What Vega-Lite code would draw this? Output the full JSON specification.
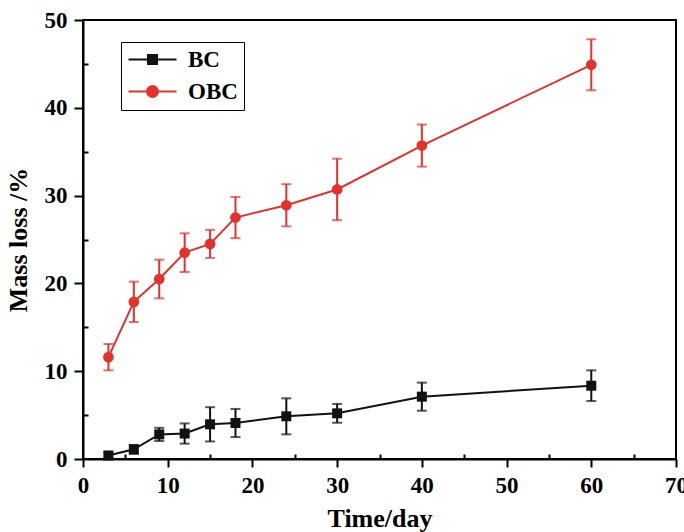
{
  "$schema": "https://vega.github.io/schema/vega-lite/v6.json",
  "width": 593,
  "height": 439,
  "autosize": {"type": "none"},
  "padding": {"left": 83, "top": 20, "right": 8, "bottom": 73},
  "background": "white",
  "config": {
    "view": {"stroke": "black", "strokeWidth": 2},
    "font": "Liberation Serif",
    "axis": {
      "domainColor": "black", "domainWidth": 2,
      "tickColor": "black", "tickWidth": 2,
      "labelFont": "Liberation Serif", "labelFontWeight": "bold", "labelFontSize": 23, "labelColor": "black",
      "titleFont": "Liberation Serif", "titleFontWeight": "bold", "titleFontSize": 26, "titleColor": "black",
      "labelFlush": false,
      "labelOverlap": false,
      "grid": false
    }
  },
  "data": {
    "values": [
      {"t": 3, "s": "BC", "m": 0.4, "e": 0.3},
      {"t": 6, "s": "BC", "m": 1.1, "e": 0.5},
      {"t": 9, "s": "BC", "m": 2.8, "e": 0.75},
      {"t": 12, "s": "BC", "m": 2.9, "e": 1.15},
      {"t": 15, "s": "BC", "m": 3.95, "e": 1.95},
      {"t": 18, "s": "BC", "m": 4.1, "e": 1.6},
      {"t": 24, "s": "BC", "m": 4.86, "e": 2.05},
      {"t": 30, "s": "BC", "m": 5.2, "e": 1.07},
      {"t": 40, "s": "BC", "m": 7.1, "e": 1.6},
      {"t": 60, "s": "BC", "m": 8.35, "e": 1.75},
      {"t": 3, "s": "OBC", "m": 11.6, "e": 1.5},
      {"t": 6, "s": "OBC", "m": 17.9, "e": 2.3},
      {"t": 9, "s": "OBC", "m": 20.5, "e": 2.2},
      {"t": 12, "s": "OBC", "m": 23.5, "e": 2.2},
      {"t": 15, "s": "OBC", "m": 24.5, "e": 1.6},
      {"t": 18, "s": "OBC", "m": 27.5, "e": 2.35},
      {"t": 24, "s": "OBC", "m": 28.9, "e": 2.4},
      {"t": 30, "s": "OBC", "m": 30.7, "e": 3.5},
      {"t": 40, "s": "OBC", "m": 35.7, "e": 2.4},
      {"t": 60, "s": "OBC", "m": 44.9, "e": 2.9}
    ]
  },
  "encoding": {
    "x": {
      "field": "t", "type": "quantitative",
      "scale": {"domain": [0, 70], "nice": false},
      "axis": {
        "title": "Time/day",
        "values": [0, 5, 10, 15, 20, 25, 30, 35, 40, 45, 50, 55, 60, 65, 70],
        "labelExpr": "datum.value % 10 === 0 ? datum.label : ''",
        "tickSize": {"condition": {"test": "datum.value % 10 === 0", "value": 8}, "value": -5},
        "labelPadding": 7,
        "titlePadding": 8
      }
    },
    "y": {
      "field": "m", "type": "quantitative",
      "scale": {"domain": [0, 50], "nice": false},
      "axis": {
        "title": "Mass loss /%",
        "values": [0, 5, 10, 15, 20, 25, 30, 35, 40, 45, 50],
        "labelExpr": "datum.value % 10 === 0 ? datum.label : ''",
        "tickSize": {"condition": {"test": "datum.value % 10 === 0", "value": 9}, "value": -5},
        "labelPadding": 7,
        "titlePadding": 13
      }
    },
    "color": {
      "field": "s", "type": "nominal",
      "scale": {"domain": ["BC", "OBC"], "range": ["#111111", "#e2322b"]},
      "legend": {
        "title": null,
        "orient": "none",
        "legendX": 38,
        "legendY": 22,
        "strokeColor": "black",
        "padding": 6,
        "symbolSize": 400,
        "symbolStrokeWidth": 2,
        "labelFont": "Liberation Serif",
        "labelFontWeight": "bold",
        "labelFontSize": 23,
        "labelColor": "black",
        "labelOffset": 38,
        "rowPadding": 8,
        "encode": {
          "symbols": {
            "update": {
              "shape": {"signal": "datum.value === 'BC' ? 'M-1,0H3.8M0.95,-0.45H1.85V0.45H0.95Z' : 'M-1,0H3.8M1.95,0A0.55,0.55 0 1,1 0.85,0A0.55,0.55 0 1,1 1.95,0Z'"},
              "stroke": {"signal": "datum.value === 'BC' ? '#111111' : '#e2322b'"},
              "fill": {"signal": "datum.value === 'BC' ? '#111111' : '#e2322b'"},
              "strokeWidth": {"value": 2},
              "opacity": {"value": 1}
            }
          }
        }
      }
    }
  },
  "layer": [
    {
      "mark": {"type": "errorbar", "ticks": true, "size": 10, "thickness": 2},
      "encoding": {"yError": {"field": "e"}}
    },
    {
      "mark": {"type": "line", "strokeWidth": 2}
    },
    {
      "transform": [{"filter": "datum.s === 'BC'"}],
      "mark": {"type": "point", "filled": true, "size": 100, "opacity": 1, "shape": "square"}
    },
    {
      "transform": [{"filter": "datum.s === 'OBC'"}],
      "mark": {"type": "point", "filled": true, "size": 115, "opacity": 1, "shape": "circle"}
    }
  ]
}
